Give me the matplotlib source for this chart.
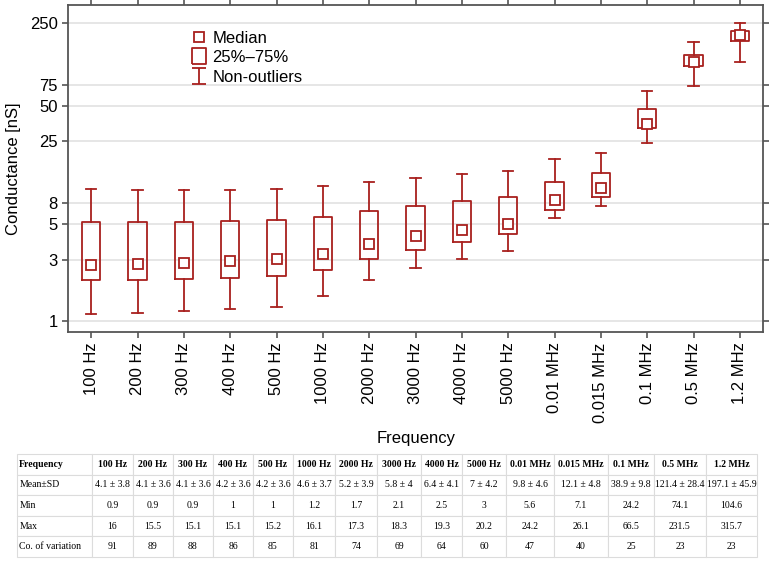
import numpy as np
import matplotlib
matplotlib.use('Agg')
import matplotlib.pyplot as plt
from matplotlib.lines import Line2D
from matplotlib.path import Path

# Data
freqs = ['100 Hz', '200 Hz', '300 Hz', '400 Hz', '500 Hz', '1000 Hz', '2000 Hz',
         '3000 Hz', '4000 Hz', '5000 Hz', '0.01 MHz', '0.015 MHz', '0.1 MHz',
         '0.5 MHz', '1.2 MHz']
# box plot values (nS)
whislo = [0.86, 0.89, 0.91, 0.96, 1.0, 1.23, 1.69, 2.12, 2.53, 2.95, 5.62, 7.06, 24.3, 74.4, 117.7]
q1 = [1.68, 1.68, 1.71, 1.76, 1.82, 2.04, 2.51, 3.03, 3.52, 4.11, 6.57, 8.47, 32.5, 108.4, 178.0]
med = [2.26, 2.28, 2.32, 2.42, 2.51, 2.79, 3.37, 3.93, 4.42, 4.97, 7.94, 10.1, 35.1, 117.7, 198.4]
q3 = [5.23, 5.17, 5.20, 5.33, 5.41, 5.77, 6.48, 7.10, 7.78, 8.42, 11.4, 13.6, 46.8, 136.2, 217.5]
whishi = [9.9, 9.64, 9.64, 9.76, 9.9, 10.4, 11.4, 12.3, 13.3, 14.1, 17.9, 20.1, 67.3, 174.8, 254.0]

# table values
mean = [4.1, 4.1, 4.1, 4.2, 4.2, 4.6, 5.2, 5.8, 6.4, 7, 9.8, 12.1, 38.9, 121.4, 197.1]
sd = [3.8, 3.6, 3.6, 3.6, 3.6, 3.7, 3.9, 4, 4.1, 4.2, 4.6, 4.8, 9.8, 28.4, 45.9]
vmin = [0.9, 0.9, 0.9, 1, 1, 1.2, 1.7, 2.1, 2.5, 3, 5.6, 7.1, 24.2, 74.1, 104.6]
vmax = [16, 15.5, 15.1, 15.1, 15.2, 16.1, 17.3, 18.3, 19.3, 20.2, 24.2, 26.1, 66.5, 231.5, 315.7]
cv = [91, 89, 88, 86, 85, 81, 74, 69, 64, 60, 47, 40, 25, 23, 23]

yticks = [0.75, 2.5, 5, 7.5, 25, 50, 75, 250]
yticklabels = ['1', '3', '5', '8', '25', '50', '75', '250']

red = '#A8201E'
spine_col = '#555555'

plt.rcParams['font.family'] = ['Liberation Sans', 'DejaVu Sans']

fig = plt.figure(figsize=(7.7, 5.64), dpi=100)
ax = fig.add_axes([68/770, 1-332/564, 695/770, 327/564])

x = np.arange(len(freqs))
stats = []
for i in range(len(freqs)):
    stats.append(dict(med=med[i], q1=q1[i], q3=q3[i], whislo=whislo[i], whishi=whishi[i], fliers=[]))

ax.bxp(stats, positions=x, widths=0.4, capwidths=0.22, showfliers=False,
       boxprops=dict(color=red, linewidth=1.3),
       whiskerprops=dict(color=red, linewidth=1.3),
       capprops=dict(color=red, linewidth=1.3),
       medianprops=dict(linewidth=0))
ax.plot(x, med, 's', ms=6.5, mfc='white', mec=red, mew=1.3, ls='none', zorder=5)

ax.set_yscale('log')
ax.set_ylim(0.609, 357.6)
ax.set_xlim(-0.5, len(freqs)-0.5)
ax.set_yticks(yticks)
ax.set_yticklabels(yticklabels)
ax.minorticks_off()
ax.set_xticks(x)
ax.set_xticklabels(freqs, rotation=90, fontsize=12)
ax.tick_params(axis='y', labelsize=12)
ax.tick_params(direction='out', length=4, width=1.2, color=spine_col,
               top=True, right=True)
ax.yaxis.grid(True, color='#e2e2e2', linewidth=1.2)
ax.set_axisbelow(True)
for s in ax.spines.values():
    s.set_color(spine_col)
    s.set_linewidth(1.3)

ax.set_ylabel('Conductance [nS]', fontsize=12, labelpad=6)
fig.text(416/770, 1-439/564, 'Frequency', fontsize=12, ha='center', va='center')

# legend
box_marker = Path([(-0.4, -0.5), (0.4, -0.5), (0.4, 0.5), (-0.4, 0.5), (-0.4, -0.5)])
ibeam = Path([(-0.4, 0.5), (0.4, 0.5), (0, 0.5), (0, -0.5), (-0.4, -0.5), (0.4, -0.5)],
             [Path.MOVETO, Path.LINETO, Path.MOVETO, Path.LINETO, Path.MOVETO, Path.LINETO])
handles = [Line2D([], [], marker='s', ms=6.5, mfc='white', mec=red, mew=1.3, ls='none'),
           Line2D([], [], marker=box_marker, ms=12, mfc='white', mec=red, mew=1.3, ls='none'),
           Line2D([], [], marker=ibeam, ms=12, mfc='none', mec=red, mew=1.3, ls='none')]
ax.legend(handles, ['Median', '25%\u201375%', 'Non-outliers'], loc='upper left',
          bbox_to_anchor=(0.1765, 0.922), borderaxespad=0, borderpad=0,
          frameon=False, fontsize=12, handlelength=1.0, handletextpad=0.3,
          labelspacing=0.28)

# table
col_edges = [17, 92, 133, 173, 213, 253, 293, 335, 377, 421, 462, 506, 554, 608, 654, 706, 757]
widths = np.diff(col_edges) / (col_edges[-1] - col_edges[0])
tax = fig.add_axes([17/770, 1-557/564, 740/770, 103/564])
tax.axis('off')
rows = [['Frequency'] + freqs,
        ['Mean\u00b1SD'] + ['%g \u00b1 %g' % (m, s) for m, s in zip(mean, sd)],
        ['Min'] + ['%g' % v for v in vmin],
        ['Max'] + ['%g' % v for v in vmax],
        ['Co. of variation'] + ['%g' % v for v in cv]]
tbl = tax.table(cellText=rows, colWidths=list(widths), bbox=[0, 0, 1, 1], cellLoc='center')
tbl.auto_set_font_size(False)
for (r, c), cell in tbl.get_celld().items():
    cell.set_edgecolor('#dcdcdc')
    cell.set_linewidth(0.8)
    t = cell.get_text()
    t.set_fontfamily('Liberation Serif')
    t.set_fontsize(7.0)
    if r == 0:
        t.set_fontweight('bold')
    if c == 0:
        cell.set_text_props(ha='left')
        cell.PAD = 0.03

fig.savefig('out.png', dpi=100)
